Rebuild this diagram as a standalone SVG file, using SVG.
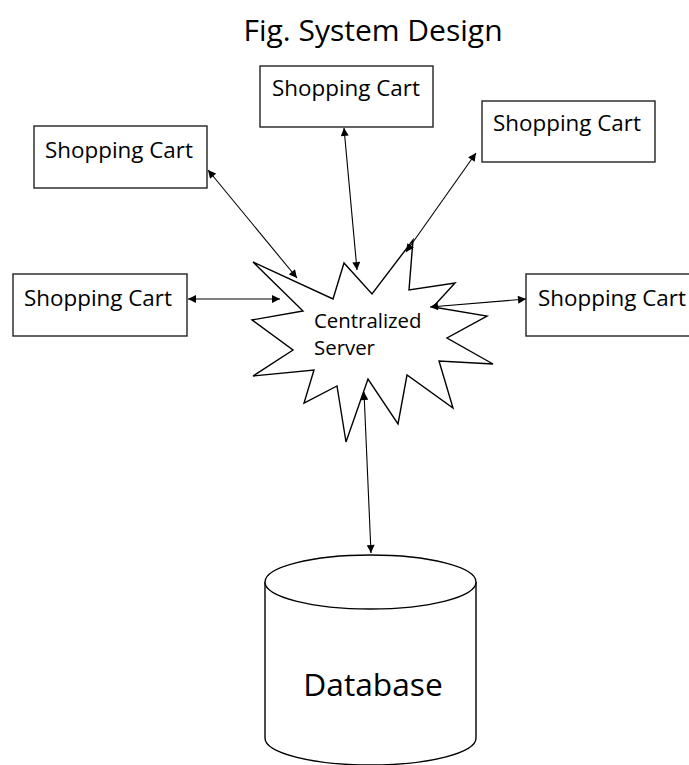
<svg xmlns="http://www.w3.org/2000/svg" width="689" height="765" viewBox="0 0 689 765">
<style>
  .box { fill: #fff; stroke: #222; stroke-width: 1.4; }
  .shape { fill: #fff; stroke: #000; stroke-width: 1.4; stroke-linejoin: miter; }
  .lbl { font-family: "Open Sans", "Liberation Sans", sans-serif; fill: #000; }
  .cart { font-size: 22.4px; }
  .conn line { stroke: #000; stroke-width: 1.1; marker-start: url(#ah); marker-end: url(#ah); }
</style>
<defs>
  <marker id="ah" viewBox="0 0 10 10" refX="10" refY="5" markerWidth="9" markerHeight="8" markerUnits="userSpaceOnUse" orient="auto-start-reverse">
    <path d="M0,0 L10,5 L0,10 z" fill="#000"/>
  </marker>
</defs>
<rect width="689" height="765" fill="#fff"/>
<text class="lbl" x="373" y="41" font-size="30" text-anchor="middle">Fig. System Design</text>

<g id="server">
  <polygon class="shape" points="253,262 333,299 344,263 372,294 413,240 409,290 455,283 433,307 487,316 447,338 493,364 439,361 453,408 407,375 398,424 368,379 346,442 337,386 304,403 314,370 253,376 293,350 252,320 303,311"/>
  <text class="lbl" x="314" y="328" font-size="20.4">Centralized</text>
  <text class="lbl" x="314" y="355" font-size="20.4">Server</text>
</g>

<g id="cart-top-left">
  <rect class="box" x="34" y="126" width="173" height="62"/>
  <text class="lbl cart" x="45" y="158">Shopping Cart</text>
</g>
<g id="cart-top-center">
  <rect class="box" x="260" y="66" width="173" height="61"/>
  <text class="lbl cart" x="272" y="96">Shopping Cart</text>
</g>
<g id="cart-top-right">
  <rect class="box" x="482" y="101" width="173" height="61"/>
  <text class="lbl cart" x="493" y="131">Shopping Cart</text>
</g>
<g id="cart-mid-left">
  <rect class="box" x="13" y="274" width="174" height="62"/>
  <text class="lbl cart" x="24" y="306">Shopping Cart</text>
</g>
<g id="cart-mid-right">
  <rect class="box" x="526" y="274" width="180" height="62"/>
  <text class="lbl cart" x="538" y="306">Shopping Cart</text>
</g>

<g id="database">
  <path class="shape" d="M265,582 L265,738 A105.5,27 0 0 0 476,738 L476,582"/>
  <ellipse class="shape" cx="370.5" cy="582" rx="105.5" ry="27"/>
  <text class="lbl" x="373" y="696" font-size="31.7" text-anchor="middle">Database</text>
</g>

<g id="connectors" class="conn">
  <line x1="208" y1="170" x2="297" y2="278"/>
  <line x1="344" y1="128" x2="357" y2="270"/>
  <line x1="476" y1="153" x2="406" y2="252"/>
  <line x1="188" y1="299" x2="280" y2="299"/>
  <line x1="526" y1="299" x2="430" y2="307"/>
  <line x1="364" y1="392" x2="371" y2="553"/>
</g>
</svg>
